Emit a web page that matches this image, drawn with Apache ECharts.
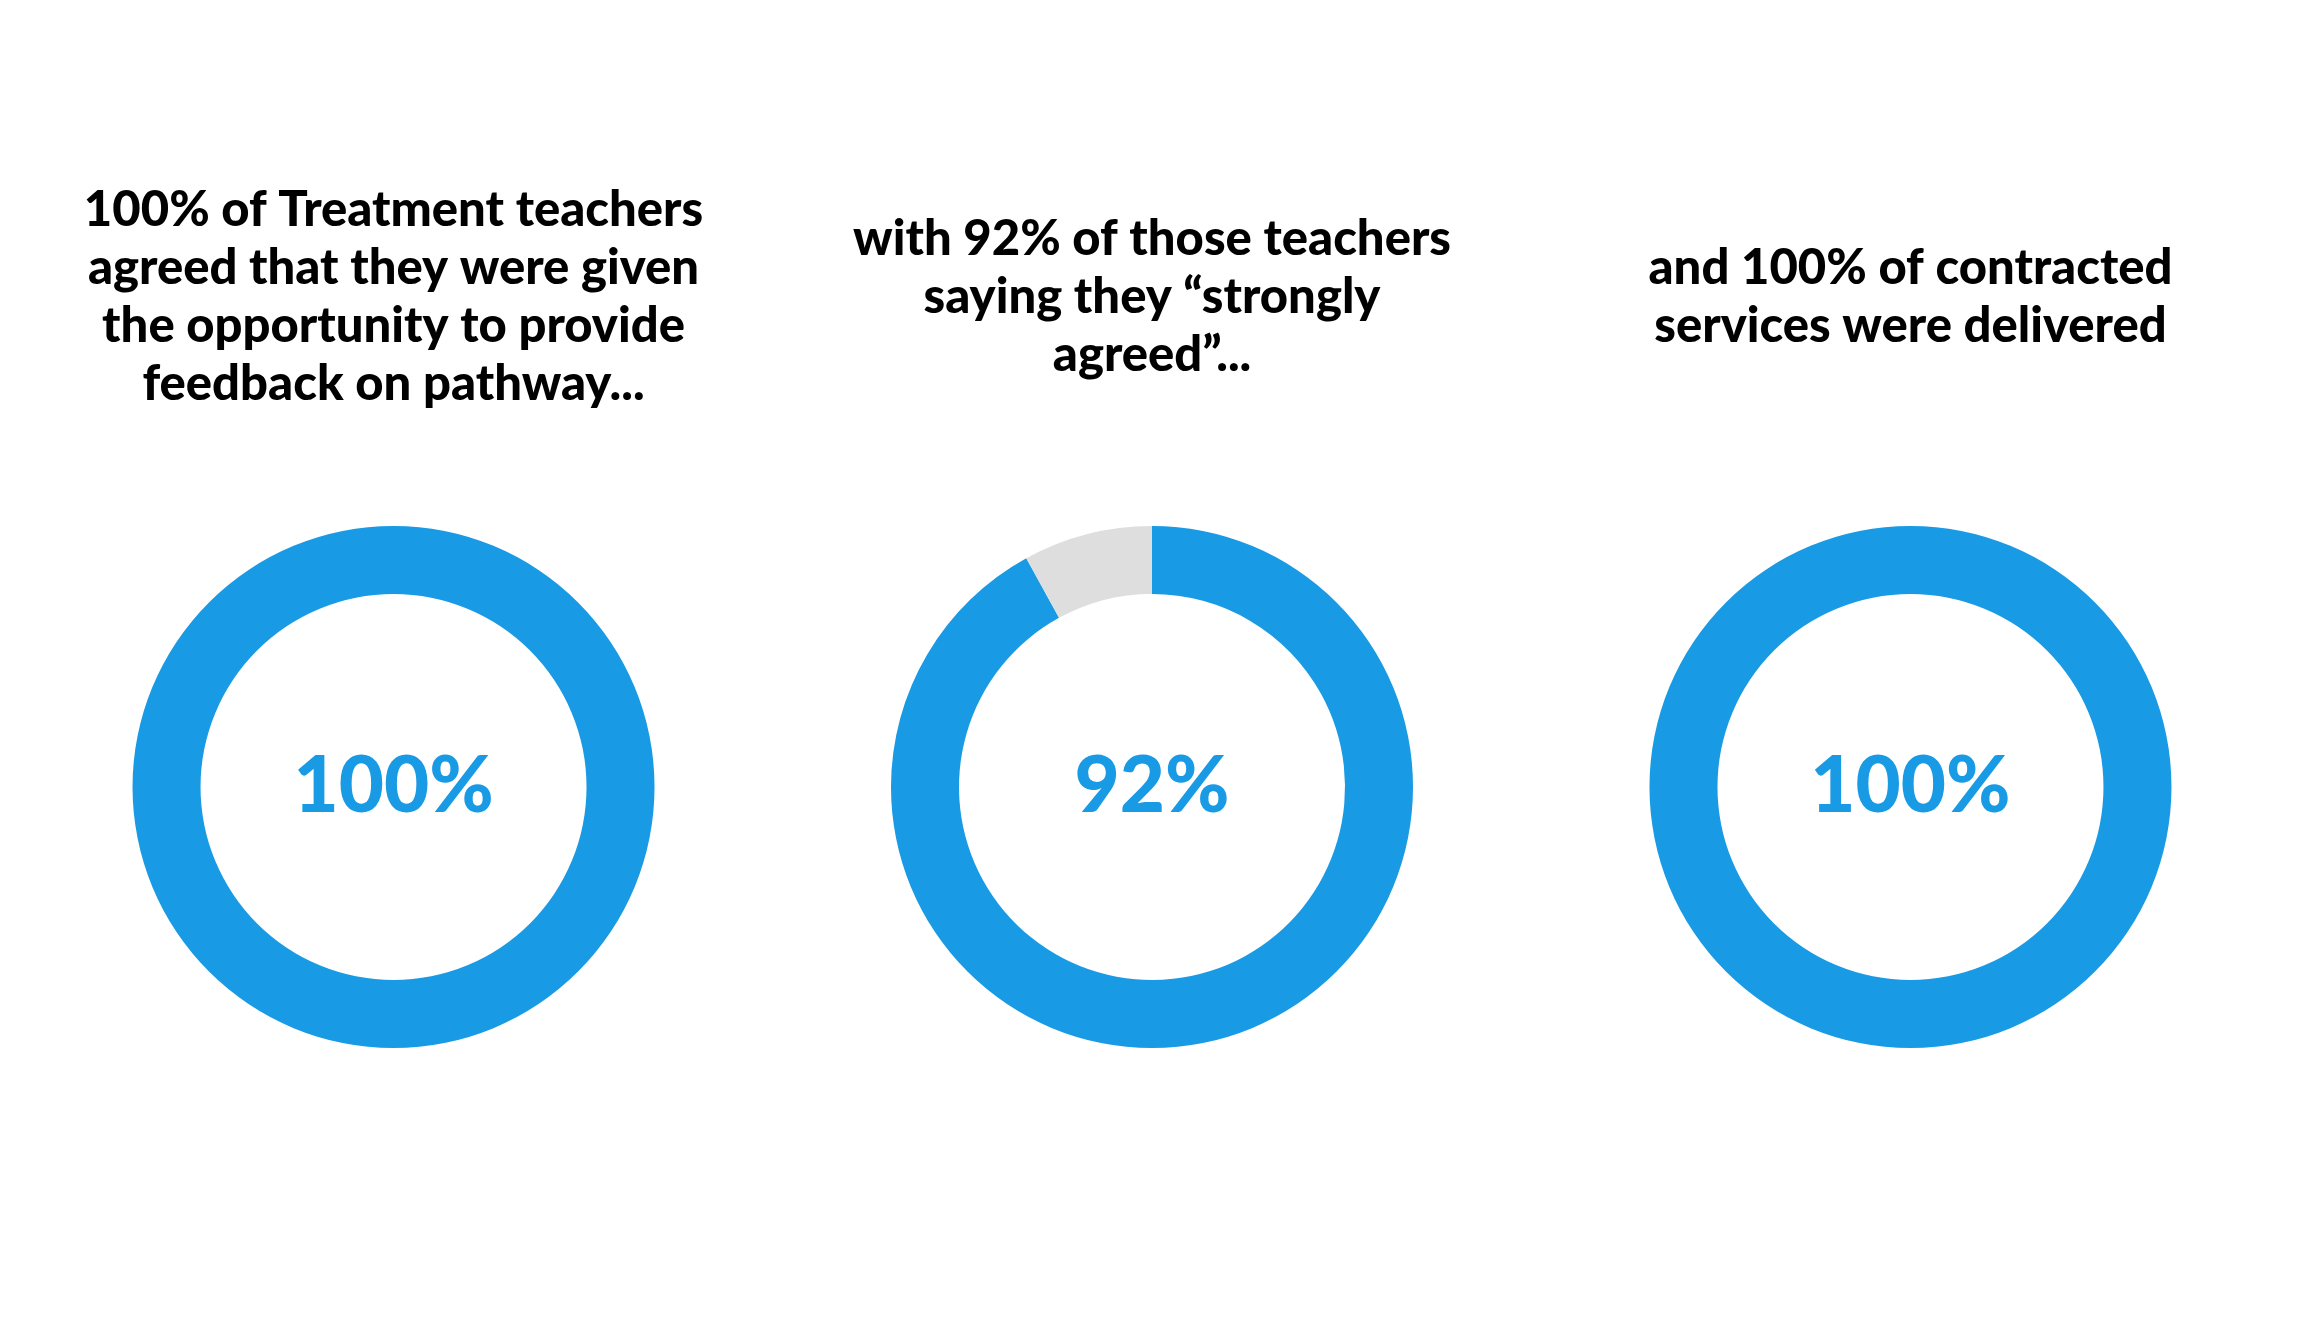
<!DOCTYPE html>
<html>
<head>
<meta charset="utf-8">
<script src="https://cdn.jsdelivr.net/npm/echarts@6/dist/echarts.min.js"></script>
<style>
html,body{margin:0;padding:0;background:#fff;}
#chart{width:2304px;height:1344px;}
</style>
</head>
<body>
<div id="chart"></div>
<script>
const captions = [
  "100% of Treatment teachers\nagreed that they were given\nthe opportunity to provide\nfeedback on pathway...",
  "with 92% of those teachers\nsaying they \u201cstrongly\nagreed\u201d...",
  "and 100% of contracted\nservices were delivered"
];
const shownValues = [100, 92, 100];
const remainderValues = [0, 8, 0];
const centersX = ['17.08%', '50%', '82.92%'];

const BLUE = '#189AE4';
const GREY = '#DEDEDE';
const FONT = 'Lato';

const chart = echarts.init(document.getElementById('chart'), null, {renderer: 'canvas'});

const titles = captions.map((t, i) => ({
  text: t,
  left: centersX[i],
  top: 297,
  textAlign: 'center',
  textVerticalAlign: 'middle',
  padding: 0,
  textStyle: {
    fontFamily: FONT,
    fontWeight: 900,
    fontSize: 49,
    lineHeight: 58,
    color: '#000000'
  }
}));

const series = shownValues.map((v, i) => ({
  type: 'pie',
  center: [centersX[i], 787],
  radius: [193, 261],
  startAngle: 90,
  clockwise: true,
  silent: true,
  avoidLabelOverlap: false,
  labelLine: {show: false},
  emphasis: {disabled: true},
  data: [
    {
      value: v,
      name: 'shown',
      itemStyle: {color: BLUE},
      label: {
        show: true,
        position: 'center',
        formatter: v + '%',
        fontFamily: FONT,
        fontWeight: 900,
        fontSize: 78,
        color: BLUE,
        padding: [12, 0, 0, 0]
      }
    },
    {
      value: remainderValues[i],
      name: 'rest',
      itemStyle: {color: GREY},
      label: {show: false}
    }
  ]
}));

chart.setOption({
  backgroundColor: '#ffffff',
  animation: false,
  title: titles,
  series: series
});
</script>
</body>
</html>
